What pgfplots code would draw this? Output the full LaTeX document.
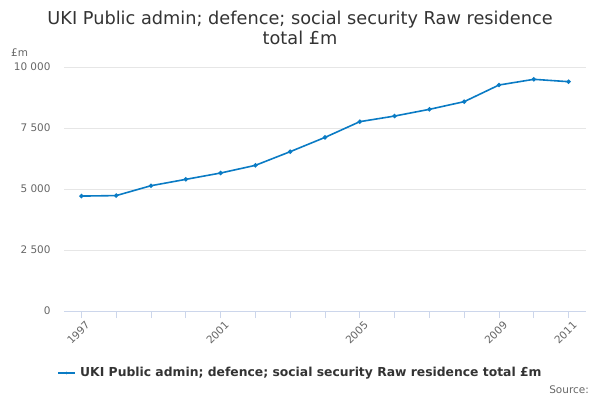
\documentclass[border=0pt]{standalone}
\usepackage{fontspec}
\setmainfont{DejaVu Sans}
\usepackage{pgfplots}
\pgfplotsset{compat=1.18}
\definecolor{linec}{HTML}{0A7BC4}
\definecolor{gridc}{HTML}{E6E6E6}
\definecolor{axisc}{HTML}{CCD6EB}
\definecolor{tickc}{HTML}{666666}
\definecolor{titlec}{HTML}{333333}
\begin{document}
\begin{tikzpicture}[x=1bp,y=1bp]
\useasboundingbox (0,0) rectangle (600,400);
\begin{axis}[
  at={(64bp,89bp)}, anchor=south west,
  scale only axis, width=522bp, height=244bp,
  xmin=1996.5, xmax=2011.5, ymin=0, ymax=10000,
  axis line style={draw=none},
  axis x line*=bottom, axis y line*=left,
  xtick={1997,2001,2005,2009,2011},
  xticklabels={1997,2001,2005,2009,2011},
  minor xtick={1998,1999,2000,2002,2003,2004,2006,2007,2008,2010},
  scaled y ticks=false,
  ytick={0,2500,5000,7500,10000},
  yticklabels={0,2 500,5 000,7 500,10 000},
  ymajorgrids, grid style={gridc, line width=0.8bp},
  major x tick style={draw=axisc, line width=0.8bp},
  minor x tick style={draw=axisc, line width=0.8bp},
  major y tick style={draw=none},
  major tick length=7bp, minor tick length=7bp,
  xtick align=outside,
  tick label style={font=\fontsize{10.5}{12}\selectfont, text=tickc},
  x tick label style={rotate=45, anchor=north east, inner sep=1bp, yshift=-3bp, xshift=2bp},
  y tick label style={anchor=east, xshift=-10bp},
  clip=false,
]
\addplot[linec, line width=1.6bp, mark=*, mark size=1.3bp, mark options={fill=linec, draw=linec}]
coordinates {
(1997,4710) (1998,4730) (1999,5135) (2000,5395) (2001,5655) (2002,5970)
(2003,6530) (2004,7115) (2005,7760) (2006,7990) (2007,8265) (2008,8580)
(2009,9262) (2010,9495) (2011,9398)
};
\draw[axisc, line width=0.8bp] (axis cs:1996.5,0) -- (axis cs:2011.5,0);
\end{axis}
\node[text=titlec, anchor=base, font=\fontsize{17.8}{20}\selectfont, inner sep=0] at (300,375.7) {UKI Public admin; defence; social security Raw residence};
\node[text=titlec, anchor=base, font=\fontsize{17.8}{20}\selectfont, inner sep=0] at (300,355.7) {total £m};
\node[text=tickc, anchor=base west, font=\fontsize{10.5}{12}\selectfont, inner sep=0] at (11,344) {£m};
\draw[linec, line width=1.6bp] (58,27) -- (75,27);
\fill[linec] (66.5,27) circle (1.3bp);
\node[text=titlec, anchor=west, font=\bfseries\fontsize{12.4}{14}\selectfont, inner sep=0] at (80,27) {UKI Public admin; defence; social security Raw residence total £m};
\node[text=tickc, anchor=base east, font=\fontsize{10.5}{12}\selectfont, inner sep=0] at (589,7) {Source:};
\end{tikzpicture}
\end{document}
